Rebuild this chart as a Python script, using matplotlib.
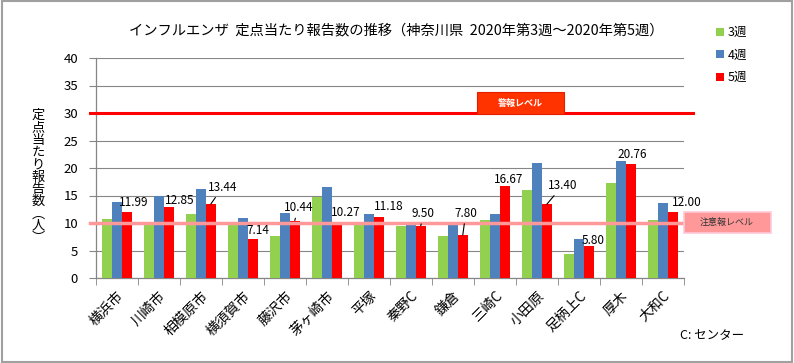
import matplotlib
matplotlib.use("Agg")
import matplotlib.pyplot as plt
from matplotlib.patches import Rectangle
import matplotlib.transforms as mtransforms
import numpy as np

plt.rcParams['font.family'] = ['Noto Sans CJK JP', 'DejaVu Sans']

# data
areas = ['横浜市', '川崎市', '相模原市', '横須賀市', '藤沢市', '茅ヶ崎市', '平塚', '秦野C',
         '鎌倉', '三崎C', '小田原', '足柄上C', '厚木', '大和C']
week3 = [10.8, 10.2, 11.7, 9.8, 7.7, 14.7, 10.0, 9.5, 7.7, 10.5, 16.0, 4.4, 17.3, 10.5]
week4 = [13.8, 14.9, 16.1, 10.9, 11.8, 16.5, 11.7, 9.8, 9.8, 11.6, 20.9, 7.1, 21.3, 13.6]
week5 = [11.99, 12.85, 13.44, 7.14, 10.44, 10.27, 11.18, 9.50, 7.80, 16.67, 13.40, 5.80, 20.76, 12.00]
series_names = ['3週', '4週', '5週']
alert_level = 30
warning_level = 10

# label offsets (pixels) for the 5週 value labels; True = leader line
lbl_off = [(6.5, 10), (10.5, 7), (12, 17), (5, 8), (3.5, 13), (9, 9), (9.5, 10),
           (2.5, 12.5), (3, 22), (4, 7), (16, 19), (4.5, 6), (1, 9), (14, 10)]
leader = [False, False, True, False, True, False, False,
          True, True, False, True, False, False, False]

c_green = '#92D050'
c_blue = '#4F81BD'
c_red = '#FF0000'
gray = '#868686'

fig = plt.figure(figsize=(7.94, 3.63), dpi=100)
ax = fig.add_axes([96/794, 1-278/363, 588/794, 220/363])

x = np.arange(len(areas))
w = 1 / 4.3
ax.bar(x - w, week3, w, color=c_green, label=series_names[0], zorder=3)
ax.bar(x, week4, w, color=c_blue, label=series_names[1], zorder=3)
ax.bar(x + w, week5, w, color=c_red, label=series_names[2], zorder=3)

ax.set_xlim(-0.5, len(areas) - 0.5)
ax.set_ylim(0, 40)
ax.set_yticks(np.arange(0, 41, 5))
ax.yaxis.grid(True, color=gray, lw=0.8, zorder=0)
ax.set_axisbelow(True)
for s in ['top', 'right']:
    ax.spines[s].set_visible(False)
for s in ['left', 'bottom']:
    ax.spines[s].set_color(gray)
    ax.spines[s].set_linewidth(0.9)
ax.tick_params(axis='y', length=5, color=gray, labelsize=9.5, pad=8)

ax.set_xticks(x)
ax.set_xticklabels(areas, rotation=45, ha='right', va='top', rotation_mode='anchor', fontsize=10)
ax.set_xticks(np.arange(-0.5, len(areas), 1), minor=True)
ax.tick_params(axis='x', which='major', length=0, pad=8)
ax.tick_params(axis='x', which='minor', length=5, color=gray)

# level lines
trans = mtransforms.blended_transform_factory(ax.transAxes, ax.transData)
ax.plot([-0.01, 1.015], [alert_level, alert_level], color='#FF0000', lw=2.2,
        transform=trans, clip_on=False, zorder=4)
ax.plot([-0.01, 1.0], [warning_level, warning_level], color='#FF9999', lw=2.5,
        transform=trans, clip_on=False, zorder=4)

# level boxes
fig.patches.append(Rectangle((477/794, 1-114/363), 87/794, 22/363, transform=fig.transFigure,
                             facecolor='#FF3300', edgecolor='#E02000', lw=0.8, zorder=5))
fig.text(520/794, 1-103/363, '警報レベル', ha='center', va='center', fontsize=6.5,
         color='white', fontweight='bold', zorder=6)
fig.patches.append(Rectangle((684/794, 1-233/363), 87/794, 21/363, transform=fig.transFigure,
                             facecolor='#FF9999', edgecolor='#FFC8D8', lw=1.2, zorder=5))
fig.text(727/794, 1-222/363, '注意報レベル', ha='center', va='center', fontsize=6.5,
         color='#333333', zorder=6)

# value labels for 5週
for i, v in enumerate(week5):
    if leader[i]:
        ax.annotate('%.2f' % v, xy=(i + w, v), xytext=lbl_off[i], textcoords='offset pixels',
                    ha='center', va='center', fontsize=8.5, zorder=6,
                    arrowprops=dict(arrowstyle='-', color='black', lw=0.8, shrinkA=1, shrinkB=0))
    else:
        ax.annotate('%.2f' % v, xy=(i + w, v), xytext=lbl_off[i], textcoords='offset pixels',
                    ha='center', va='center', fontsize=8.5, zorder=6)

# titles and texts
fig.text(0.499, 1-30/363, 'インフルエンザ  定点当たり報告数の推移（神奈川県  2020年第3週～2020年第5週）',
         ha='center', va='center', fontsize=10.3)
fig.text(38/794, 1-177/363, '\n'.join('定点当たり報告数︵人︶'), ha='center', va='center',
         fontsize=9.5, linespacing=0.93)
fig.text(712/794, 1-336/363, 'C: センター', ha='center', va='center', fontsize=9)

ax.legend(loc='upper left', bbox_to_anchor=(705/794, 1-15/363), bbox_transform=fig.transFigure,
          frameon=False, fontsize=9, handlelength=0.6, handleheight=0.6, handletextpad=0.3,
          labelspacing=0.75)

# outer border
fig.patches.append(Rectangle((0.002, 0.003), 0.995, 0.993, transform=fig.transFigure,
                             fill=False, edgecolor='#A0A0A0', lw=1.5))

fig.savefig('out.png', dpi=100)
